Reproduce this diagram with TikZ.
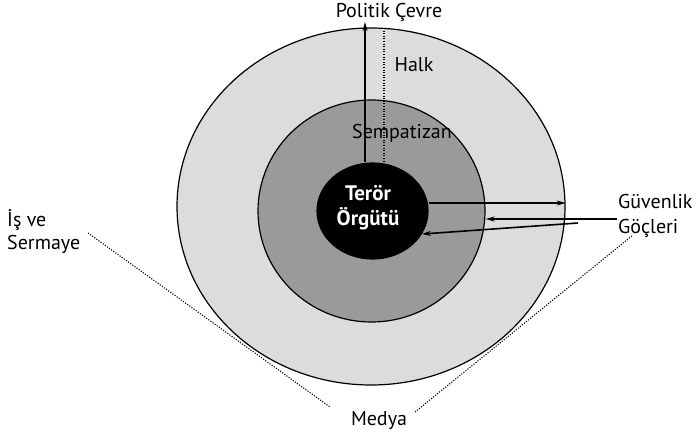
\documentclass[tikz,border=0pt]{standalone}
\usepackage{fontspec}
\setmainfont{PT Sans}
\usetikzlibrary{shapes.geometric,arrows.meta}
\definecolor{outerfill}{HTML}{DCDCDC}
\definecolor{midfill}{HTML}{9A9A9A}
\begin{document}
\begin{tikzpicture}[x=1pt,y=-1pt,
  ring/.style={ellipse,draw=black,line width=1.2pt,inner sep=0pt},
  lbl/.style={inner sep=0pt,font=\fontsize{20}{23}\selectfont},
  arr/.style={line width=1.6pt,-{Stealth[length=9pt,width=5pt]}},
  dots/.style={line width=1.1pt,dash pattern=on 1.1pt off 1.5pt}]
\useasboundingbox (0,0) rectangle (695,435);
\node[ring,fill=outerfill,minimum width=388pt,minimum height=357pt] (outer) at (371,206.5) {};
\node[ring,fill=midfill,minimum width=227pt,minimum height=222pt] (middle) at (371.5,211) {};
\node[ring,fill=black,minimum width=111pt,minimum height=96pt] (core) at (372.5,211) {};
% labels
\node[lbl] (pol) at (389,12) {Politik Çevre};
\node[lbl] (halk) at (414,65) {Halk};
\node[lbl] (semp) at (402,133) {Sempatizan};
\node[lbl,align=center,text=white,font=\bfseries\fontsize{21}{25}\selectfont] (terror) at (368,207.5) {Terör\\Örgütü};
\node[lbl,align=left,anchor=west,font=\fontsize{20}{25}\selectfont] (guv) at (618,215.5) {Güvenlik\\Göçleri};
\node[lbl,align=left,anchor=west] (is) at (7,231.5) {İş ve\\Sermaye};
\node[lbl] (medya) at (379,421) {Medya};
% coordinates
\coordinate (vtop) at (365,22);
\coordinate (dtop) at (384,28);
\coordinate (a1) at (0,203);
\coordinate (g1) at (617,219);
\coordinate (g2) at (578,223);
\coordinate (l1) at (88,233);
\coordinate (l2) at (330,407);
\coordinate (r1) at (415,412);
\coordinate (r2) at (633,235);
% connectors
\draw[dots] (dtop) -- (dtop |- core.north);
\draw[arr] (vtop |- core.north) -- (vtop);
\draw[arr] (core.east |- a1) -- (outer.east |- a1);
\draw[arr] (g1) -- (middle.east |- g1);
\draw[arr] (g2) -- (core.-25);
\draw[dots] (l1) -- (l2);
\draw[dots] (r1) -- (r2);
\end{tikzpicture}
\end{document}
